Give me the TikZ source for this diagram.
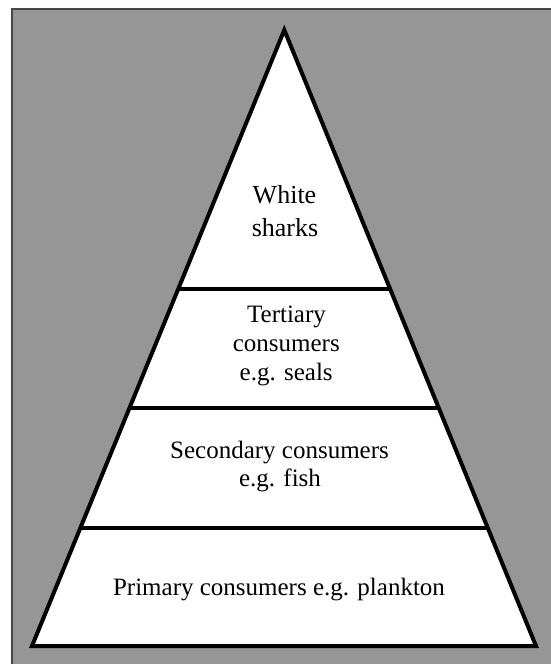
\documentclass[tikz,border=0pt]{standalone}
\usepackage{fontspec}
\setmainfont{Liberation Serif}
\usetikzlibrary{calc}
\definecolor{bggray}{RGB}{150,150,150}
\definecolor{framegray}{RGB}{70,70,70}
\begin{document}
\begin{tikzpicture}[x=1pt,y=-1pt,
  lbl/.style={anchor=base,inner sep=0pt,font=\fontsize{25}{29}\selectfont},
  toplbl/.style={anchor=base,inner sep=0pt,font=\fontsize{26}{30}\selectfont},
  tri/.style={draw=black,line width=4pt,fill=white,line join=miter},
  tier/.style={draw=black,line width=4pt}]
\useasboundingbox (0,0) rectangle (551,664);
\fill[white] (0,0) rectangle (551,664);
\fill[bggray] (11.5,8.5) rectangle (551,664);
\draw[framegray,line width=2pt] (11.5,664) -- (11.5,8.5) -- (551,8.5);
% pyramid
\coordinate (A) at (284.3,30);
\coordinate (B) at (32,646);
\coordinate (C) at (536,646);
\draw[tri] (A) -- (B) -- (C) -- cycle;
% tier lines
\coordinate (l1) at ($(A)!0.421!(B)$);
\coordinate (r1) at ($(A)!0.421!(C)$);
\coordinate (l2) at ($(A)!0.614!(B)$);
\coordinate (r2) at ($(A)!0.614!(C)$);
\coordinate (l3) at ($(A)!0.808!(B)$);
\coordinate (r3) at ($(A)!0.808!(C)$);
\draw[tier] (l1) -- (r1);
\draw[tier] (l2) -- (r2);
\draw[tier] (l3) -- (r3);
% labels
\node[toplbl] (w1) at (284.5,203.5) {White};
\node[toplbl] (w2) at (285,236.7) {sharks};
\node[lbl] (t1) at (286.5,322.7) {Tertiary};
\node[lbl] (t2) at (286.3,351.7) {consumers};
\node[lbl] (t3) at (286.2,380.5) {e.g. seals};
\node[lbl] (s1) at (279.5,458.3) {Secondary consumers};
\node[lbl] (s2) at (280,486.7) {e.g. fish};
\node[lbl] (p1) at (279,595.5) {Primary consumers e.g. plankton};
\end{tikzpicture}
\end{document}
